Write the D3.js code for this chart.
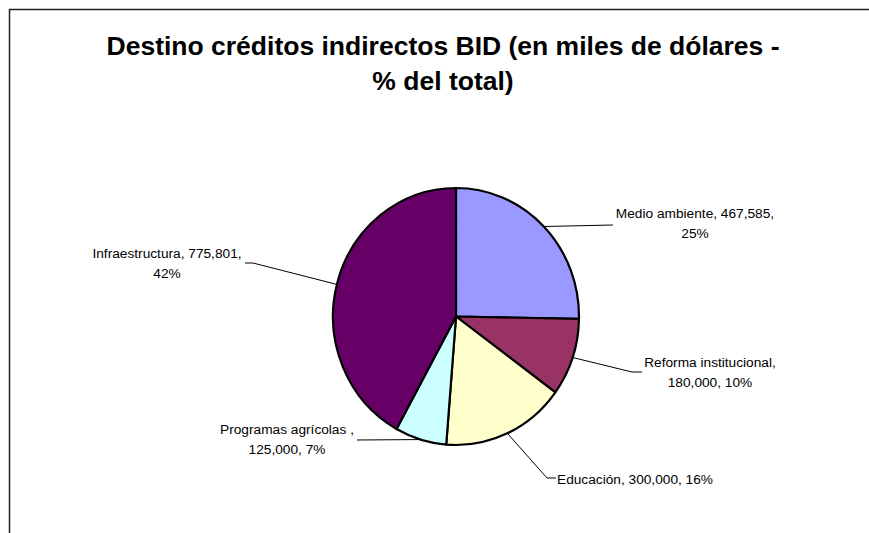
<!DOCTYPE html>
<html>
<head>
<meta charset="utf-8">
<script src="https://cdn.jsdelivr.net/npm/d3@7"></script>
<style>
    body { margin: 0; background: #fff; }
    svg { display: block; font-family: "Liberation Sans", Arial, sans-serif; }
</style>
</head>
<body>
<div class="canvas"></div>
<script>
// chart data
const categories = ["Medio ambiente", "Reforma institucional", "Educación", "Programas agrícolas ", "Infraestructura"];
const values = [467585, 180000, 300000, 125000, 775801];
const percentLabels = ["25%", "10%", "16%", "7%", "42%"];
const colors = ["#9999FF", "#993366", "#FFFFCC", "#CCFFFF", "#660066"];
const titleLines = ["Destino créditos indirectos BID (en miles de dólares -", "% del total)"];

// label layout: text anchor point, lines, leader elbow
const labelLayout = [
    {x: 695, y: 218, anchor: "middle", lines: d => [`${d.cat}, ${d.val},`, d.pct], leader: [[613, 225]]},
    {x: 710, y: 367, anchor: "middle", lines: d => [`${d.cat},`, `${d.val}, ${d.pct}`], leader: [[632, 372], [642, 372]]},
    {x: 557, y: 484, anchor: "start", lines: d => [`${d.cat}, ${d.val}, ${d.pct}`], leader: [[547, 478], [556, 478]]},
    {x: 287, y: 434, anchor: "middle", lines: d => [`${d.cat},`, `${d.val}, ${d.pct}`], leader: [[357, 440]]},
    {x: 167, y: 258, anchor: "middle", lines: d => [`${d.cat}, ${d.val},`, d.pct], leader: [[253, 263], [245, 263]]}
];

const width = 869, height = 533;
const pieSpec = {cx: 456, cy: 316.5, rx: 123, ry: 128.5};

const svg = d3.select(".canvas").append("svg")
    .attr("width", width)
    .attr("height", height);

// frame of chart area
svg.append("path")
    .attr("d", `M9.5,${height + 5} L9.5,9.5 L${width + 5},9.5`)
    .attr("fill", "none")
    .attr("stroke", "#222")
    .attr("stroke-width", 1.5);

// title
svg.append("g").selectAll("text")
    .data(titleLines)
    .enter()
    .append("text")
    .attr("x", 443)
    .attr("y", (d, i) => 55 + i * 35)
    .attr("text-anchor", "middle")
    .style("font-size", "26.5px")
    .style("font-weight", "bold")
    .text(d => d);

const data = categories.map((c, i) => ({cat: c, value: values[i], pct: percentLabels[i], color: colors[i]}));

const pie = d3.pie().sort(null).value(d => d.value);
const arcs = pie(data);
const arc = d3.arc().innerRadius(0).outerRadius(pieSpec.ry);

const pieGroup = svg.append("g")
    .attr("transform", `translate(${pieSpec.cx}, ${pieSpec.cy}) scale(${pieSpec.rx / pieSpec.ry}, 1)`);

pieGroup.selectAll("path")
    .data(arcs)
    .enter()
    .append("path")
    .attr("d", arc)
    .attr("fill", d => d.data.color)
    .attr("stroke", "#000")
    .attr("stroke-width", 2.2)
    .attr("vector-effect", "non-scaling-stroke")
    .attr("stroke-linejoin", "round");

// point on pie edge at the middle of a slice
function edgePoint(d) {
    const a = (d.startAngle + d.endAngle) / 2;
    return [pieSpec.cx + pieSpec.rx * Math.sin(a), pieSpec.cy - pieSpec.ry * Math.cos(a)];
}

const fmt = d3.format(",");
const labelGroup = svg.append("g");

arcs.forEach((d, i) => {
    const spec = labelLayout[i];
    const pts = [edgePoint(d)].concat(spec.leader);
    labelGroup.append("path")
        .attr("d", d3.line()(pts))
        .attr("fill", "none")
        .attr("stroke", "#000")
        .attr("stroke-width", 1);

    const lines = spec.lines({cat: d.data.cat, val: fmt(d.data.value), pct: d.data.pct});
    labelGroup.selectAll(null)
        .data(lines)
        .enter()
        .append("text")
        .attr("x", spec.x)
        .attr("y", (t, j) => spec.y + j * 19.5)
        .attr("text-anchor", spec.anchor)
        .style("font-size", "13.7px")
        .style("fill", "#000")
        .text(t => t);
});
</script>
</body>
</html>
